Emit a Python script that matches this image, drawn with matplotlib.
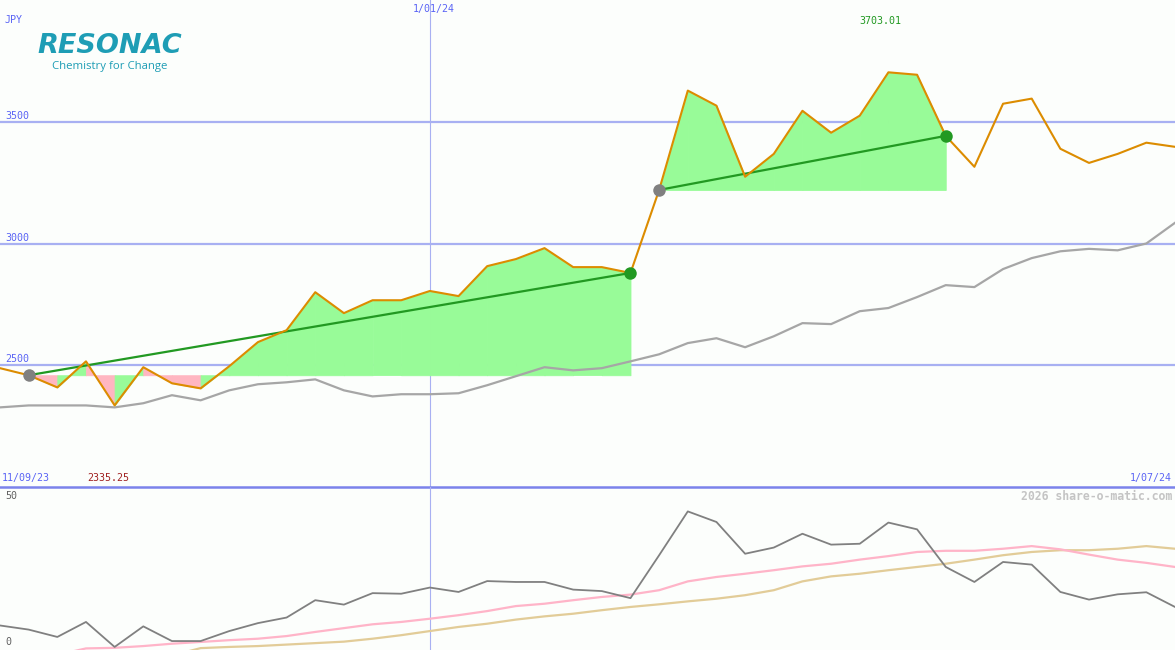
import numpy as np
import matplotlib.pyplot as plt

W, H = 1175, 650

# weekly close, JPY
price = [2488, 2459, 2409, 2516, 2335.25, 2492, 2426, 2405, 2496, 2595,
         2644, 2800, 2714, 2767, 2767, 2805, 2784, 2907, 2936, 2981,
         2903, 2903, 2879, 3220, 3628, 3566, 3274, 3368, 3545, 3455,
         3525, 3703.01, 3693, 3442, 3315, 3574, 3595, 3389, 3331, 3368,
         3414, 3397]
# long moving average (grey)
avg = [2327, 2335, 2335, 2335, 2327, 2344, 2377, 2356, 2397, 2422,
       2430, 2442, 2397, 2372, 2381, 2381, 2385, 2418, 2455, 2492,
       2479, 2488, 2516, 2545, 2591, 2611, 2574, 2619, 2673, 2669,
       2722, 2735, 2780, 2829, 2821, 2895, 2940, 2968, 2978, 2972,
       3000, 3085]
# lower panel
osc = [8.0, 6.6, 4.1, 9.2, 0.7, 7.7, 2.7, 2.7, 6.1, 8.8,
       10.7, 16.6, 15.1, 19.0, 18.8, 20.9, 19.4, 23.1, 22.8, 22.8,
       20.2, 19.7, 17.3, 31.9, 46.8, 43.2, 32.4, 34.5, 39.2, 35.5,
       35.8, 43.0, 40.7, 27.9, 22.8, 29.6, 28.7, 19.4, 16.8, 18.6,
       19.3, 14.3]
osc_fast = [np.nan, np.nan, -2.0, 0.2, 0.4, 1.0, 1.8, 2.4, 3.0, 3.5,
            4.4, 5.8, 7.1, 8.4, 9.2, 10.3, 11.5, 12.9, 14.6, 15.4,
            16.6, 17.7, 18.5, 20.0, 23.0, 24.5, 25.6, 26.8, 28.1, 29.0,
            30.4, 31.6, 33.0, 33.4, 33.4, 34.1, 35.0, 33.9, 32.1, 30.4,
            29.3, 27.9]
osc_slow = [np.nan, np.nan, np.nan, np.nan, np.nan, np.nan, -2.2, 0.3, 0.7, 1.0,
            1.5, 2.0, 2.5, 3.5, 4.7, 6.1, 7.5, 8.6, 10.0, 11.1,
            12.0, 13.2, 14.3, 15.2, 16.2, 17.1, 18.3, 20.0, 23.0, 24.7,
            25.6, 26.8, 27.9, 29.0, 30.4, 31.9, 33.0, 33.6, 33.6, 34.1,
            35.0, 34.1]
levels = [2500, 3000, 3500]
segments = [(1, 22), (23, 33)]
date_tick = 15

x = np.arange(len(price))
price = np.array(price)

bg = '#FCFEFC'
blue_txt = '#5A64F5'
grid_c = '#A8B0F2'

fig = plt.figure(figsize=(W / 100, H / 100), dpi=100, facecolor=bg)
ax1 = fig.add_axes([0, 163 / H, 1, 487 / H], facecolor=bg)
ax2 = fig.add_axes([0, 0, 1, 163 / H], facecolor=bg)

# main panel
for lv in levels:
    ax1.axhline(lv, color=grid_c, lw=1.6, zorder=1)
ax1.axvline(date_tick, color=grid_c, lw=0.8, zorder=1)
ax1.axhline(2000, color='#7B83EB', lw=1.8, clip_on=False, zorder=5)

for a, b in segments:
    base = price[a]
    # each week is shaded by where it closes against the start level
    for i in range(a, b):
        col = '#98FB98' if price[i + 1] >= base else '#FFB6C1'
        ax1.fill_between(x[i:i + 2], price[i:i + 2], base, facecolor=col,
                         edgecolor=col, lw=0.6, zorder=2)
    ax1.plot([a, b], [price[a], price[b]], color='#229922', lw=1.6, zorder=4)
    ax1.plot(a, price[a], 'o', color='#808080', ms=9, mec='none', zorder=6)
    ax1.plot(b, price[b], 'o', color='#229922', ms=9, mec='none', zorder=6)

ax1.plot(x, avg, color='#A6A6A6', lw=1.6, zorder=3)
ax1.plot(x, price, color='#DC8C00', lw=1.5, zorder=5)
ax1.set_xlim(0, len(price) - 1)
ax1.set_ylim(2000, 4000)
ax1.axis('off')

# lower panel
ax2.axvline(date_tick, color=grid_c, lw=0.8, zorder=1)
ax2.plot(x, osc_slow, color='#E2CC98', lw=1.6, zorder=2)
ax2.plot(x, osc_fast, color='#FFB4C8', lw=1.6, zorder=2)
ax2.plot(x, osc, color='#808080', lw=1.3, zorder=3)
ax2.set_xlim(0, len(price) - 1)
ax2.set_ylim(-0.34, 55.1)
ax2.axis('off')


def label(px, py, s, color=blue_txt, ha='left', size=7.2, **kw):
    fig.text(px / W, 1 - py / H, s, color=color, ha=ha, va='center',
             fontsize=size, family='DejaVu Sans Mono', **kw)


label(5, 20, 'JPY')
label(434, 9, '1/01/24', ha='center')
label(880, 21, '3703.01', color='#229922', ha='center')
for lv, py in zip(levels, [359, 238, 116]):
    label(5, py, str(lv))
label(2, 478, '11/09/23')
label(87, 478, '2335.25', color='#A02020')
label(1172, 478, '1/07/24', ha='right')
label(5, 496, '50', color='#606060')
label(5, 642, '0', color='#606060')
label(1172, 496, '2026 share-o-matic.com', color='#C4C4C4', ha='right',
      size=8.3, weight='bold')

# logo
fig.text(110 / W, 1 - 46 / H, 'RESONAC', color='#1E9DB5', ha='center',
         va='center', fontsize=19.5, weight='bold', style='italic',
         family='DejaVu Sans')
fig.text(110 / W, 1 - 67 / H, 'Chemistry for Change', color='#1E9DB5',
         ha='center', va='center', fontsize=8.2, family='Open Sans')

fig.savefig('out.png', dpi=100, facecolor=bg)
